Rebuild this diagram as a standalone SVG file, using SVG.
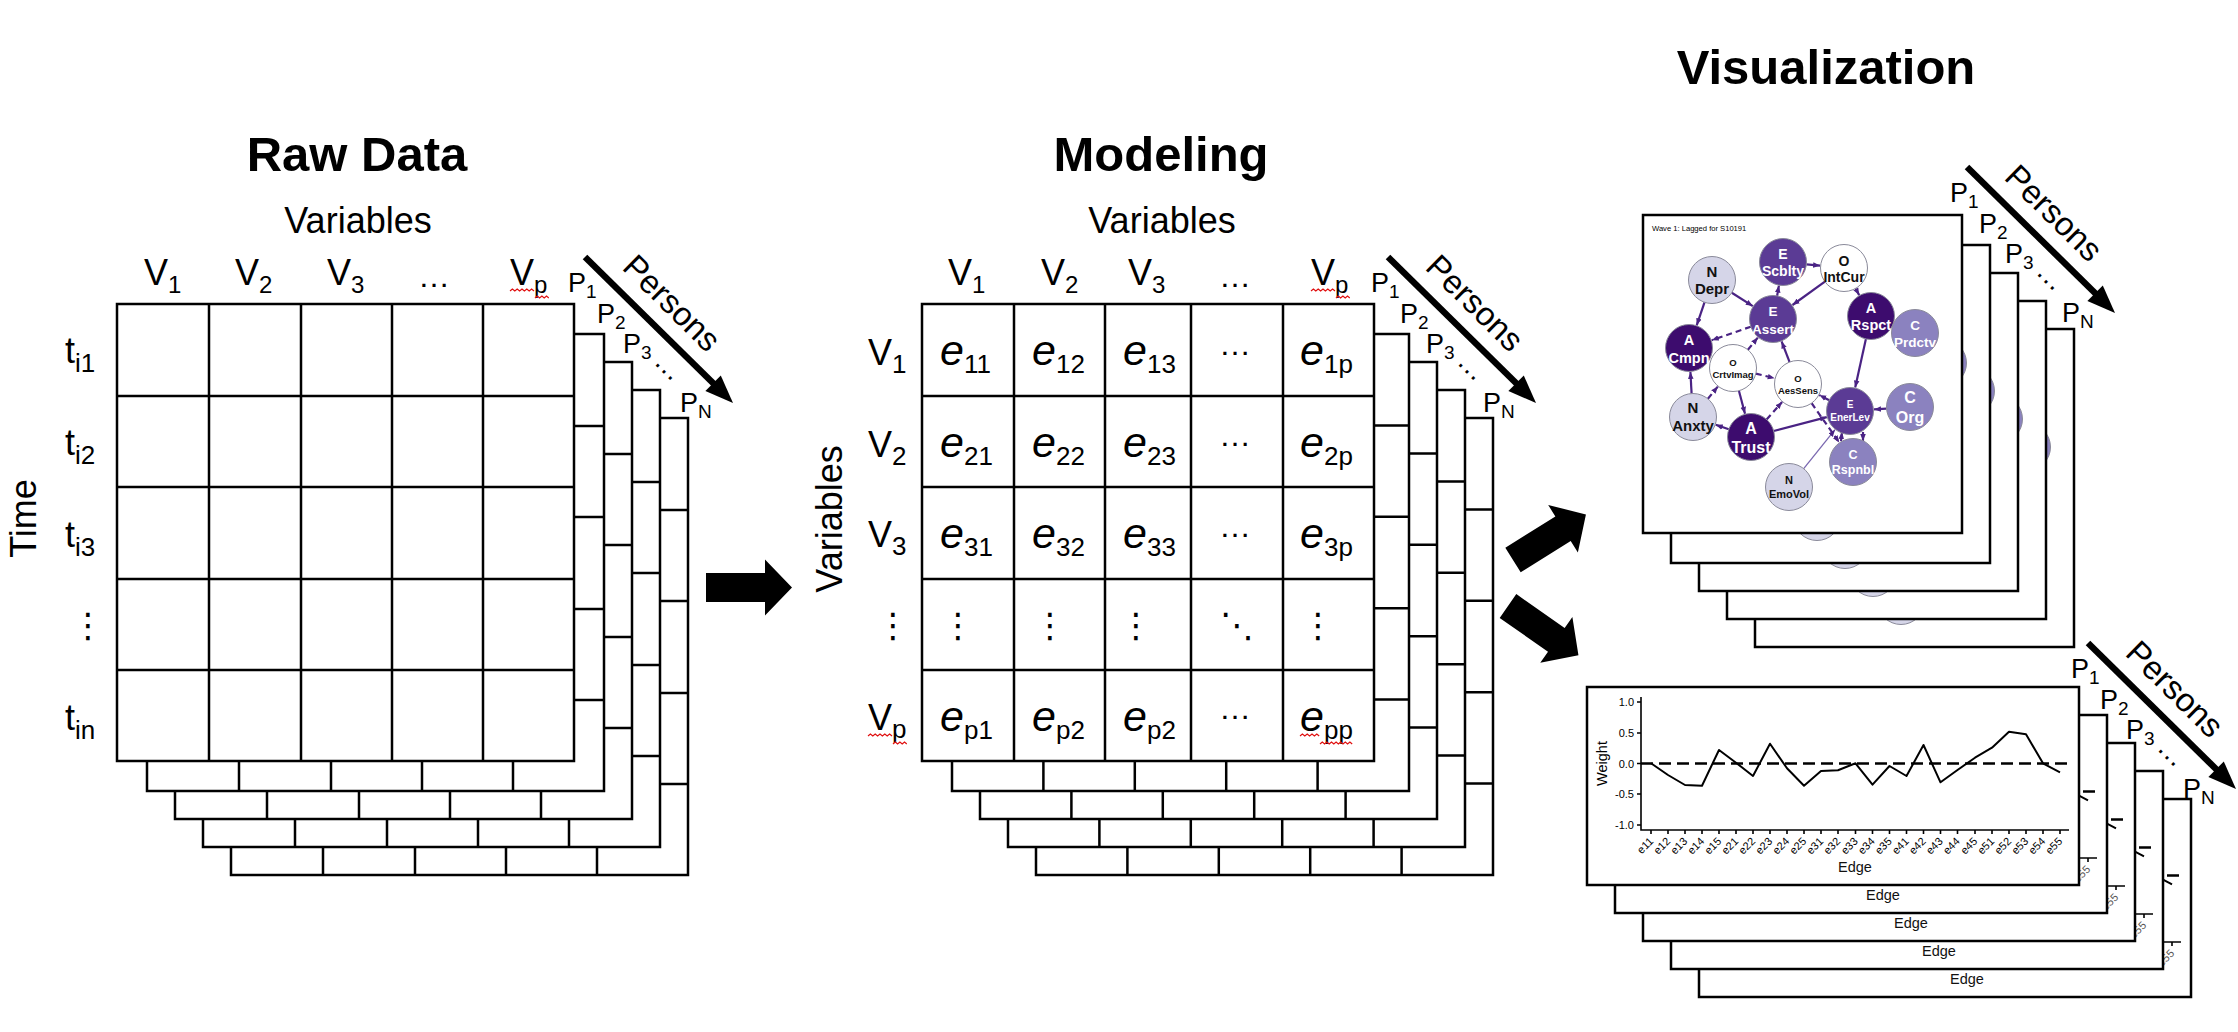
<svg xmlns="http://www.w3.org/2000/svg" width="2238" height="1032" viewBox="0 0 2238 1032">
<style>
text { font-family: "Liberation Sans", Arial, sans-serif; fill:#000; }
.title { font-size:49px; font-weight:bold; text-anchor:middle; }
.hdr { font-size:36px; }
.mid { text-anchor:middle; }
.s24 { font-size:24px; }
.e { font-size:43px; font-style:italic; }
.es { font-size:26px; font-style:normal; }
.pl { font-size:27px; }
.ps { font-size:19px; }
.dots { font-size:32px; }
.vd { font-family:"DejaVu Sans", sans-serif; font-size:34px; text-anchor:middle; }
.grid { fill:#fff; stroke:#000; stroke-width:2.5; }
.gl { fill:none; stroke:#000; stroke-width:2.5; }
.panel { fill:#fff; stroke:#000; stroke-width:2.5; }
.sq { fill:none; stroke:#e01010; stroke-width:1.2; }
.edge { fill:none; stroke:#4a2384; stroke-width:2.2; marker-end:url(#ah); }
.dash { stroke-dasharray:6 4; }
.nt { font-weight:bold; text-anchor:middle; }
.wt { fill:#fff; }
.bt { fill:#111; }
.nd { stroke:#8a8a9a; stroke-width:1; }
.dark { fill:#3d0c6e; }
.med { fill:#5b3b95; }
.lp { fill:#8b82bf; }
.lav { fill:#d5d5e8; }
.wh { fill:#ffffff; }
.ax { stroke:#000; stroke-width:1.6; fill:none; }
.zero { stroke:#000; stroke-width:2.5; stroke-dasharray:12 6; fill:none; }
.data { stroke:#000; stroke-width:2; fill:none; stroke-linejoin:round; }
.tk { font-size:11px; fill:#555; }
.edgelbl { font-size:14.5px; text-anchor:middle; fill:#111; }
.arr { fill:#000; }
</style>
<defs>
<marker id="ah" viewBox="0 0 10 10" refX="10" refY="5" markerWidth="7" markerHeight="7" markerUnits="userSpaceOnUse" orient="auto"><path d="M0,1 L10,5 L0,9 z" fill="#4a2384"/></marker>
<g id="rawgrid"><rect class="grid" x="117" y="304" width="457" height="457"/><path class="gl" d="M209,304V761M301,304V761M392,304V761M483,304V761M117,396H574M117,487H574M117,579H574M117,670H574"/></g>
<g id="modlayer"><rect class="grid" x="952" y="334" width="457" height="457"/><path class="gl" d="M1043.4,334V791M1134.8,334V791M1226.2,334V791M1317.6,334V791M952,425.4H1409M952,516.8H1409M952,608.2H1409M952,699.6H1409"/></g>
</defs>

<!-- ================= RAW DATA ================= -->
<g id="raw-data">
<text class="title" x="357" y="171">Raw Data</text>
<text class="hdr mid" x="358" y="233">Variables</text>
<use href="#rawgrid" transform="translate(114,114)"/>
<use href="#rawgrid" transform="translate(86,86)"/>
<use href="#rawgrid" transform="translate(58,58)"/>
<use href="#rawgrid" transform="translate(30,30)"/>
<rect class="grid" x="117" y="304" width="457" height="457"/>
<path class="gl" d="M209,304V761M301,304V761M392,304V761M483,304V761M117,396H574M117,487H574M117,579H574M117,670H574"/>
<text class="hdr" x="144" y="285">V<tspan class="s24" dy="8">1</tspan></text>
<text class="hdr" x="235" y="285">V<tspan class="s24" dy="8">2</tspan></text>
<text class="hdr" x="327" y="285">V<tspan class="s24" dy="8">3</tspan></text>
<text class="dots" x="418" y="287">…</text>
<text class="hdr" x="510" y="285">V<tspan class="s24" dy="8">p</tspan></text>
<path class="sq" d="M510,291l2.4,-2l2.4,2l2.4,-2l2.4,2l2.4,-2l2.4,2l2.4,-2l2.4,2l2.4,-2l2.4,2M535,298l2.3,-2l2.3,2l2.3,-2l2.3,2l2.3,-2l2.3,2"/>
<text class="hdr" x="65" y="363">t<tspan class="es" dy="9">i1</tspan></text>
<text class="hdr" x="65" y="455">t<tspan class="es" dy="9">i2</tspan></text>
<text class="hdr" x="65" y="547">t<tspan class="es" dy="9">i3</tspan></text>
<text class="vd" x="88" y="637">⋮</text>
<text class="hdr" x="65" y="730">t<tspan class="es" dy="9">in</tspan></text>
<text class="hdr mid" transform="translate(36,518.5) rotate(-90)">Time</text>
</g>

<g id="persons-raw">
<text class="pl" x="568" y="292">P<tspan class="ps" dy="6">1</tspan></text>
<text class="pl" x="597" y="323">P<tspan class="ps" dy="6">2</tspan></text>
<text class="pl" x="623" y="353">P<tspan class="ps" dy="6">3</tspan></text>
<text font-size="28" transform="translate(653,363) rotate(45)">…</text>
<text class="pl" x="680" y="412">P<tspan class="ps" dy="6">N</tspan></text>
<line x1="585" y1="257" x2="714" y2="384" stroke="#000" stroke-width="6.5"/>
<polygon class="arr" points="733,403 720.8,375.5 705.4,391.1"/>
<text x="664" y="311" font-size="33" text-anchor="middle" transform="rotate(44.6 664 311)">Persons</text>
</g>

<!-- ================= MODELING ================= -->
<g id="modeling">
<text class="title" x="1161" y="171">Modeling</text>
<text class="hdr mid" x="1162" y="233">Variables</text>
<use href="#modlayer" transform="translate(84,84)"/>
<use href="#modlayer" transform="translate(56,56)"/>
<use href="#modlayer" transform="translate(28,28)"/>
<use href="#modlayer"/>
<rect class="grid" x="922" y="304" width="452" height="457"/>
<path class="gl" d="M1014,304V761M1105,304V761M1191,304V761M1283,304V761M922,396H1374M922,487H1374M922,579H1374M922,670H1374"/>
<text class="hdr" x="948" y="285">V<tspan class="s24" dy="8">1</tspan></text>
<text class="hdr" x="1041" y="285">V<tspan class="s24" dy="8">2</tspan></text>
<text class="hdr" x="1128" y="285">V<tspan class="s24" dy="8">3</tspan></text>
<text class="dots" x="1219" y="287">…</text>
<text class="hdr" x="1311" y="285">V<tspan class="s24" dy="8">p</tspan></text>
<path class="sq" d="M1311,291l2.4,-2l2.4,2l2.4,-2l2.4,2l2.4,-2l2.4,2l2.4,-2l2.4,2l2.4,-2l2.4,2M1336,298l2.3,-2l2.3,2l2.3,-2l2.3,2l2.3,-2l2.3,2"/>
<text class="hdr mid" transform="translate(842,519) rotate(-90)">Variables</text>
<text class="hdr" x="868" y="365">V<tspan class="es" dy="8">1</tspan></text>
<text class="hdr" x="868" y="457">V<tspan class="es" dy="8">2</tspan></text>
<text class="hdr" x="868" y="547">V<tspan class="es" dy="8">3</tspan></text>
<text class="vd" x="893" y="637">⋮</text>
<text class="hdr" x="868" y="730">V<tspan class="es" dy="8">p</tspan></text>
<path class="sq" d="M868,736l2.4,-2l2.4,2l2.4,-2l2.4,2l2.4,-2l2.4,2l2.4,-2l2.4,2l2.4,-2l2.4,2M893,744l2.3,-2l2.3,2l2.3,-2l2.3,2l2.3,-2l2.3,2"/>
<text class="e" x="940" y="365">e<tspan class="es" dy="8">11</tspan></text>
<text class="e" x="1032" y="365">e<tspan class="es" dy="8">12</tspan></text>
<text class="e" x="1123" y="365">e<tspan class="es" dy="8">13</tspan></text>
<text class="dots" x="1219" y="355">…</text>
<text class="e" x="1300" y="365">e<tspan class="es" dy="8">1p</tspan></text>
<text class="e" x="940" y="457">e<tspan class="es" dy="8">21</tspan></text>
<text class="e" x="1032" y="457">e<tspan class="es" dy="8">22</tspan></text>
<text class="e" x="1123" y="457">e<tspan class="es" dy="8">23</tspan></text>
<text class="dots" x="1219" y="446">…</text>
<text class="e" x="1300" y="457">e<tspan class="es" dy="8">2p</tspan></text>
<text class="e" x="940" y="548">e<tspan class="es" dy="8">31</tspan></text>
<text class="e" x="1032" y="548">e<tspan class="es" dy="8">32</tspan></text>
<text class="e" x="1123" y="548">e<tspan class="es" dy="8">33</tspan></text>
<text class="dots" x="1219" y="537">…</text>
<text class="e" x="1300" y="548">e<tspan class="es" dy="8">3p</tspan></text>
<text class="vd" x="958" y="637">⋮</text>
<text class="vd" x="1050" y="637">⋮</text>
<text class="vd" x="1136" y="637">⋮</text>
<text class="vd" x="1237" y="637">⋱</text>
<text class="vd" x="1318" y="637">⋮</text>
<text class="e" x="940" y="731">e<tspan class="es" dy="8">p1</tspan></text>
<text class="e" x="1032" y="731">e<tspan class="es" dy="8">p2</tspan></text>
<text class="e" x="1123" y="731">e<tspan class="es" dy="8">p2</tspan></text>
<text class="dots" x="1219" y="719">…</text>
<text class="e" x="1300" y="731">e<tspan class="es" dy="8">pp</tspan></text>
<path class="sq" d="M1300,736l2.4,-2l2.4,2l2.4,-2l2.4,2l2.4,-2l2.4,2l2.4,-2l2.4,2M1320,744l2.3,-2l2.3,2l2.3,-2l2.3,2l2.3,-2l2.3,2l2.3,-2l2.3,2l2.3,-2l2.3,2l2.3,-2l2.3,2l2.3,-2l2.3,2"/>
</g>

<g id="persons-modeling" transform="translate(803,0)">
<text class="pl" x="568" y="292">P<tspan class="ps" dy="6">1</tspan></text>
<text class="pl" x="597" y="323">P<tspan class="ps" dy="6">2</tspan></text>
<text class="pl" x="623" y="353">P<tspan class="ps" dy="6">3</tspan></text>
<text font-size="28" transform="translate(653,363) rotate(45)">…</text>
<text class="pl" x="680" y="412">P<tspan class="ps" dy="6">N</tspan></text>
<line x1="585" y1="257" x2="714" y2="384" stroke="#000" stroke-width="6.5"/>
<polygon class="arr" points="733,403 720.8,375.5 705.4,391.1"/>
<text x="664" y="311" font-size="33" text-anchor="middle" transform="rotate(44.6 664 311)">Persons</text>
</g>

<!-- ================= VISUALIZATION ================= -->
<g id="visualization-title">
<text class="title" x="1826" y="84">Visualization</text>
</g>

<g id="network-stack">
<g transform="translate(112,114)"><rect class="panel" x="1643" y="215" width="319" height="318"/><circle class="nd lp" cx="1915" cy="333" r="23.5"/><circle class="nd lav" cx="1789" cy="487" r="23.5"/></g>
<g transform="translate(84,86)"><rect class="panel" x="1643" y="215" width="319" height="318"/><circle class="nd lp" cx="1915" cy="333" r="23.5"/><circle class="nd lav" cx="1789" cy="487" r="23.5"/></g>
<g transform="translate(56,58)"><rect class="panel" x="1643" y="215" width="319" height="318"/><circle class="nd lp" cx="1915" cy="333" r="23.5"/><circle class="nd lav" cx="1789" cy="487" r="23.5"/></g>
<g transform="translate(28,30)"><rect class="panel" x="1643" y="215" width="319" height="318"/><circle class="nd lp" cx="1915" cy="333" r="23.5"/><circle class="nd lav" cx="1789" cy="487" r="23.5"/></g>
<rect class="panel" x="1643" y="215" width="319" height="318"/>
<text x="1652" y="231" font-size="7.6" fill="#333">Wave 1: Lagged for S10191</text>
<g id="net-edges">
<line class="edge" x1="1704.5" y1="302.3" x2="1696.7" y2="325.3"/>
<line class="edge" x1="1731.8" y1="292.7" x2="1752.8" y2="306.1"/>
<line class="edge" x1="1777.1" y1="295.9" x2="1778.9" y2="285.6"/>
<line class="edge" x1="1806.4" y1="264.3" x2="1820.1" y2="265.6"/>
<line class="edge" x1="1824.9" y1="281.7" x2="1792.5" y2="305"/>
<line class="edge" x1="1855.5" y1="288.5" x2="1859.2" y2="295.1"/>
<line class="edge dash" x1="1750.8" y1="326.7" x2="1711.7" y2="340.2"/>
<line class="edge dash" x1="1747.9" y1="349.8" x2="1757.8" y2="337.6"/>
<line class="edge" x1="1789.6" y1="362.1" x2="1781.6" y2="341.4"/>
<line class="edge" x1="1865.9" y1="338.9" x2="1855.2" y2="387.6"/>
<line class="edge" x1="1691.6" y1="393.5" x2="1690.4" y2="372"/>
<line class="edge dash" x1="1707.9" y1="398.8" x2="1717.8" y2="386.6"/>
<line class="edge dash" x1="1755.8" y1="373.6" x2="1774.7" y2="378.3"/>
<line class="edge" x1="1738.9" y1="390.7" x2="1745" y2="413.8"/>
<line class="edge" x1="1728.8" y1="429.3" x2="1715.7" y2="424.8"/>
<line class="edge dash" x1="1766.6" y1="419.4" x2="1782.1" y2="402"/>
<line class="edge" x1="1773.7" y1="431" x2="1826.8" y2="417.1"/>
<line class="edge" x1="1803.7" y1="468.7" x2="1835" y2="429.7" style="stroke:#7a68b0;stroke-width:1.3"/>
<line class="edge" x1="1886.5" y1="408.6" x2="1874" y2="409.4"/>
<line class="edge" x1="1841" y1="441" x2="1842" y2="432"/>
<line class="edge" x1="1863" y1="432" x2="1863" y2="441"/>
<line class="edge dash" x1="1829.2" y1="400.2" x2="1819.3" y2="395.1"/>
<line class="edge dash" x1="1811.6" y1="403.2" x2="1839.2" y2="442.4"/>
</g>
<g id="node-depr"><circle class="nd lav" cx="1712" cy="280" r="23.5"/><text class="nt bt" x="1712" y="277" font-size="15">N</text><text class="nt bt" x="1712" y="294" font-size="15">Depr</text></g>
<g id="node-scblty"><circle class="nd med" cx="1783" cy="262" r="23.5"/><text class="nt wt" x="1783" y="259" font-size="14">E</text><text class="nt wt" x="1783" y="276" font-size="14">Scblty</text></g>
<g id="node-intcur"><circle class="nd wh" cx="1844" cy="268" r="23.5"/><text class="nt bt" x="1844" y="266" font-size="14">O</text><text class="nt bt" x="1844" y="282" font-size="14">IntCur</text></g>
<g id="node-assert"><circle class="nd med" cx="1773" cy="319" r="23.5"/><text class="nt wt" x="1773" y="316" font-size="13.5">E</text><text class="nt wt" x="1773" y="334" font-size="13.5">Assert</text></g>
<g id="node-rspct"><circle class="nd dark" cx="1871" cy="316" r="23.5"/><text class="nt wt" x="1871" y="313" font-size="14.5">A</text><text class="nt wt" x="1871" y="330" font-size="14.5">Rspct</text></g>
<g id="node-prdctv"><circle class="nd lp" cx="1915" cy="333" r="23.5"/><text class="nt wt" x="1915" y="330" font-size="13.5">C</text><text class="nt wt" x="1915" y="347" font-size="13.5">Prdctv</text></g>
<g id="node-cmpn"><circle class="nd dark" cx="1689" cy="348" r="23.5"/><text class="nt wt" x="1689" y="345" font-size="14.5">A</text><text class="nt wt" x="1689" y="363" font-size="14.5">Cmpn</text></g>
<g id="node-crtvimag"><circle class="nd wh" cx="1733" cy="368" r="23.5"/><text class="nt bt" x="1733" y="366" font-size="9.5">O</text><text class="nt bt" x="1733" y="378" font-size="9.5">CrtvImag</text></g>
<g id="node-aessens"><circle class="nd wh" cx="1798" cy="384" r="23.5"/><text class="nt bt" x="1798" y="382" font-size="9.5">O</text><text class="nt bt" x="1798" y="394" font-size="9.5">AesSens</text></g>
<g id="node-anxty"><circle class="nd lav" cx="1693" cy="417" r="23.5"/><text class="nt bt" x="1693" y="413" font-size="15">N</text><text class="nt bt" x="1693" y="431" font-size="15">Anxty</text></g>
<g id="node-trust"><circle class="nd dark" cx="1751" cy="437" r="23.5"/><text class="nt wt" x="1751" y="434" font-size="16">A</text><text class="nt wt" x="1751" y="453" font-size="16">Trust</text></g>
<g id="node-enerlev"><circle class="nd med" cx="1850" cy="411" r="23.5"/><text class="nt wt" x="1850" y="408" font-size="10">E</text><text class="nt wt" x="1850" y="421" font-size="10">EnerLev</text></g>
<g id="node-org"><circle class="nd lp" cx="1910" cy="407" r="23.5"/><text class="nt wt" x="1910" y="403" font-size="16">C</text><text class="nt wt" x="1910" y="423" font-size="16">Org</text></g>
<g id="node-rspnbl"><circle class="nd lp" cx="1853" cy="462" r="23.5"/><text class="nt wt" x="1853" y="459" font-size="12.5">C</text><text class="nt wt" x="1853" y="474" font-size="12.5">Rspnbl</text></g>
<g id="node-emovol"><circle class="nd lav" cx="1789" cy="487" r="23.5"/><text class="nt bt" x="1789" y="484" font-size="11">N</text><text class="nt bt" x="1789" y="498" font-size="11">EmoVol</text></g>
</g>

<g id="persons-network" transform="translate(1382,-90)">
<text class="pl" x="568" y="292">P<tspan class="ps" dy="6">1</tspan></text>
<text class="pl" x="597" y="323">P<tspan class="ps" dy="6">2</tspan></text>
<text class="pl" x="623" y="353">P<tspan class="ps" dy="6">3</tspan></text>
<text font-size="28" transform="translate(653,363) rotate(45)">…</text>
<text class="pl" x="680" y="412">P<tspan class="ps" dy="6">N</tspan></text>
<line x1="585" y1="257" x2="714" y2="384" stroke="#000" stroke-width="6.5"/>
<polygon class="arr" points="733,403 720.8,375.5 705.4,391.1"/>
<text x="664" y="311" font-size="33" text-anchor="middle" transform="rotate(44.6 664 311)">Persons</text>
</g>

<g id="lineplot-stack">
<g transform="translate(112,112)"><rect class="panel" x="1587" y="687" width="492" height="198"/><line class="zero" x1="1641" y1="763.5" x2="2069" y2="763.5"/><polyline class="data" points="1651,763.3 1668,775 1685,785 1702,785.7 1719,750 1736,762.7 1753,776 1770,743.7 1787,768.3 1804,785.7 1821,771 1838,770.3 1855.5,763.3 1872.5,784.7 1889.5,766 1906.5,776 1923.5,745 1940.5,782.3 1957.5,770 1975,757.7 1992,747.7 2009,731.7 2026,734.3 2043,763.3 2060,772.3"/><line class="ax" x1="1641" y1="830" x2="2069" y2="830"/><path class="ax" d="M2060,830v4"/><text class="tk" text-anchor="end" transform="translate(2063,842) rotate(-45)">e55</text><text class="edgelbl" x="1855" y="872">Edge</text></g>
<g transform="translate(84,84)"><rect class="panel" x="1587" y="687" width="492" height="198"/><line class="zero" x1="1641" y1="763.5" x2="2069" y2="763.5"/><polyline class="data" points="1651,763.3 1668,775 1685,785 1702,785.7 1719,750 1736,762.7 1753,776 1770,743.7 1787,768.3 1804,785.7 1821,771 1838,770.3 1855.5,763.3 1872.5,784.7 1889.5,766 1906.5,776 1923.5,745 1940.5,782.3 1957.5,770 1975,757.7 1992,747.7 2009,731.7 2026,734.3 2043,763.3 2060,772.3"/><line class="ax" x1="1641" y1="830" x2="2069" y2="830"/><path class="ax" d="M2060,830v4"/><text class="tk" text-anchor="end" transform="translate(2063,842) rotate(-45)">e55</text><text class="edgelbl" x="1855" y="872">Edge</text></g>
<g transform="translate(56,56)"><rect class="panel" x="1587" y="687" width="492" height="198"/><line class="zero" x1="1641" y1="763.5" x2="2069" y2="763.5"/><polyline class="data" points="1651,763.3 1668,775 1685,785 1702,785.7 1719,750 1736,762.7 1753,776 1770,743.7 1787,768.3 1804,785.7 1821,771 1838,770.3 1855.5,763.3 1872.5,784.7 1889.5,766 1906.5,776 1923.5,745 1940.5,782.3 1957.5,770 1975,757.7 1992,747.7 2009,731.7 2026,734.3 2043,763.3 2060,772.3"/><line class="ax" x1="1641" y1="830" x2="2069" y2="830"/><path class="ax" d="M2060,830v4"/><text class="tk" text-anchor="end" transform="translate(2063,842) rotate(-45)">e55</text><text class="edgelbl" x="1855" y="872">Edge</text></g>
<g transform="translate(28,28)"><rect class="panel" x="1587" y="687" width="492" height="198"/><line class="zero" x1="1641" y1="763.5" x2="2069" y2="763.5"/><polyline class="data" points="1651,763.3 1668,775 1685,785 1702,785.7 1719,750 1736,762.7 1753,776 1770,743.7 1787,768.3 1804,785.7 1821,771 1838,770.3 1855.5,763.3 1872.5,784.7 1889.5,766 1906.5,776 1923.5,745 1940.5,782.3 1957.5,770 1975,757.7 1992,747.7 2009,731.7 2026,734.3 2043,763.3 2060,772.3"/><line class="ax" x1="1641" y1="830" x2="2069" y2="830"/><path class="ax" d="M2060,830v4"/><text class="tk" text-anchor="end" transform="translate(2063,842) rotate(-45)">e55</text><text class="edgelbl" x="1855" y="872">Edge</text></g>
<g id="lineplot-front">
<rect class="panel" x="1587" y="687" width="492" height="198"/>
<line class="zero" x1="1641" y1="763.5" x2="2069" y2="763.5"/>
<polyline class="data" points="1651,763.3 1668,775 1685,785 1702,785.7 1719,750 1736,762.7 1753,776 1770,743.7 1787,768.3 1804,785.7 1821,771 1838,770.3 1855.5,763.3 1872.5,784.7 1889.5,766 1906.5,776 1923.5,745 1940.5,782.3 1957.5,770 1975,757.7 1992,747.7 2009,731.7 2026,734.3 2043,763.3 2060,772.3"/>
<path class="ax" d="M1641,697V830H2069"/>
<path class="ax" d="M1637,702h4M1637,733h4M1637,763.5h4M1637,794h4M1637,825h4"/>
<g class="tk" text-anchor="end">
<text x="1634" y="706">1.0</text>
<text x="1634" y="737">0.5</text>
<text x="1634" y="767.5">0.0</text>
<text x="1634" y="798">-0.5</text>
<text x="1634" y="829">-1.0</text>
</g>
<path class="ax" d="M1651,830v4M1668,830v4M1685,830v4M1702,830v4M1719,830v4M1736,830v4M1753,830v4M1770,830v4M1787,830v4M1804,830v4M1821,830v4M1838,830v4M1855.5,830v4M1872.5,830v4M1889.5,830v4M1906.5,830v4M1923.5,830v4M1940.5,830v4M1957.5,830v4M1975,830v4M1992,830v4M2009,830v4M2026,830v4M2043,830v4M2060,830v4"/>
<g class="tk" text-anchor="end">
<text transform="translate(1654,842) rotate(-45)">e11</text>
<text transform="translate(1671,842) rotate(-45)">e12</text>
<text transform="translate(1688,842) rotate(-45)">e13</text>
<text transform="translate(1705,842) rotate(-45)">e14</text>
<text transform="translate(1722,842) rotate(-45)">e15</text>
<text transform="translate(1739,842) rotate(-45)">e21</text>
<text transform="translate(1756,842) rotate(-45)">e22</text>
<text transform="translate(1773,842) rotate(-45)">e23</text>
<text transform="translate(1790,842) rotate(-45)">e24</text>
<text transform="translate(1807,842) rotate(-45)">e25</text>
<text transform="translate(1824,842) rotate(-45)">e31</text>
<text transform="translate(1841,842) rotate(-45)">e32</text>
<text transform="translate(1858.5,842) rotate(-45)">e33</text>
<text transform="translate(1875.5,842) rotate(-45)">e34</text>
<text transform="translate(1892.5,842) rotate(-45)">e35</text>
<text transform="translate(1909.5,842) rotate(-45)">e41</text>
<text transform="translate(1926.5,842) rotate(-45)">e42</text>
<text transform="translate(1943.5,842) rotate(-45)">e43</text>
<text transform="translate(1960.5,842) rotate(-45)">e44</text>
<text transform="translate(1978,842) rotate(-45)">e45</text>
<text transform="translate(1995,842) rotate(-45)">e51</text>
<text transform="translate(2012,842) rotate(-45)">e52</text>
<text transform="translate(2029,842) rotate(-45)">e53</text>
<text transform="translate(2046,842) rotate(-45)">e54</text>
<text transform="translate(2063,842) rotate(-45)">e55</text>
</g>
<text font-size="14.5" fill="#222" text-anchor="middle" transform="translate(1607,763.5) rotate(-90)">Weight</text>
<text class="edgelbl" x="1855" y="872">Edge</text>
</g>
</g>

<g id="persons-lineplot" transform="translate(1503,386)">
<text class="pl" x="568" y="292">P<tspan class="ps" dy="6">1</tspan></text>
<text class="pl" x="597" y="323">P<tspan class="ps" dy="6">2</tspan></text>
<text class="pl" x="623" y="353">P<tspan class="ps" dy="6">3</tspan></text>
<text font-size="28" transform="translate(653,363) rotate(45)">…</text>
<text class="pl" x="680" y="412">P<tspan class="ps" dy="6">N</tspan></text>
<line x1="585" y1="257" x2="714" y2="384" stroke="#000" stroke-width="6.5"/>
<polygon class="arr" points="733,403 720.8,375.5 705.4,391.1"/>
<text x="664" y="311" font-size="33" text-anchor="middle" transform="rotate(44.6 664 311)">Persons</text>
</g>

<!-- ================= CONNECTORS ================= -->
<g id="connectors">
<path class="arr" d="M0,-14.5H59V-28L86,0L59,28V14.5H0Z" transform="translate(706,587.5)"/>
<path class="arr" d="M0,-14.5H59V-28L86,0L59,28V14.5H0Z" transform="translate(1513,560) rotate(-32)"/>
<path class="arr" d="M0,-14.5H59V-28L86,0L59,28V14.5H0Z" transform="translate(1508,606) rotate(35)"/>
</g>
</svg>
